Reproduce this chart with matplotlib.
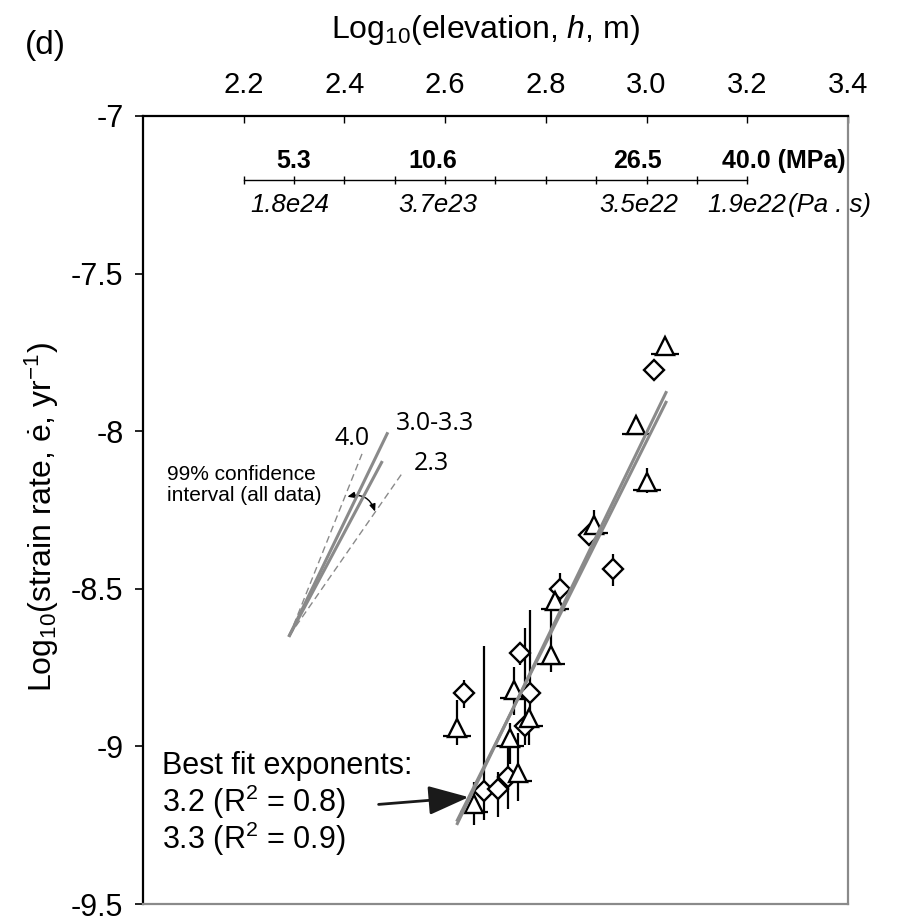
import numpy as np
import matplotlib
matplotlib.use("Agg")
import matplotlib.pyplot as plt
from matplotlib import font_manager
from matplotlib.transforms import ScaledTranslation

plt.rcParams["font.family"] = ["Liberation Sans", "DejaVu Sans"]
plt.rcParams["axes.unicode_minus"] = False
plt.rcParams["mathtext.fontset"] = "custom"
plt.rcParams["mathtext.rm"] = "Liberation Sans"
plt.rcParams["mathtext.it"] = "Liberation Sans:italic"
plt.rcParams["mathtext.bf"] = "Liberation Sans:bold"

installed = {f.name for f in font_manager.fontManager.ttflist}
NARROW = "Liberation Sans Narrow" if "Liberation Sans Narrow" in installed else "Liberation Sans"

# triangles: log10 h, log10 strain rate, error below / above
tri_x = [3.037, 2.979, 3.001, 2.895, 2.818, 2.811, 2.737, 2.767, 2.729, 2.623, 2.745, 2.657]
tri_y = [-7.730, -7.981, -8.160, -8.297, -8.538, -8.711, -8.821, -8.910, -8.973, -8.941, -9.083, -9.182]
tri_lo = [0.0, 0.0, 0.037, 0.068, 0.030, 0.053, 0.079, 0.084, 0.084, 0.055, 0.089, 0.068]
tri_hi = [0.0, 0.0, 0.042, 0.048, 0.030, 0.142, 0.073, 0.030, 0.048, 0.089, 0.127, 0.069]

# diamonds
dia_x = [3.014, 2.886, 2.933, 2.828, 2.749, 2.637, 2.769, 2.758, 2.677, 2.705, 2.725]
dia_y = [-7.807, -8.328, -8.438, -8.501, -8.705, -8.831, -8.831, -8.936, -9.141, -9.135, -9.098]
dia_lo = [0.0, 0.030, 0.053, 0.037, 0.037, 0.046, 0.060, 0.058, 0.094, 0.088, 0.100]
dia_hi = [0.0, 0.030, 0.048, 0.051, 0.032, 0.042, 0.265, 0.311, 0.461, 0.053, 0.095]

# best fit lines (value at log h = 2.8 and slope)
fit_slopes = [3.2, 3.3]
fit_y28 = [-8.672, -8.665]
fit_xrange = [2.623, 3.04]

# exponent fan with 99% confidence interval
fan_labels = ["4.0", "3.0-3.3", "2.3"]
fan_slopes = [4.0, 3.3, 3.0, 2.3]
fan_xend = [2.435, 2.485, 2.474, 2.516]
fan_dashed = [True, False, False, True]
fan_origin = (2.291, -8.648)

# inner stress / viscosity scale
scale_ticks = [2.2, 2.3, 2.4, 2.5, 2.6, 2.7, 2.8, 2.9, 3.0, 3.1, 3.2]
stress_x = [2.300, 2.576, 2.982]
stress_labels = ["5.3", "10.6", "26.5"]
stress_last = "40.0 (MPa)"
visc_x = [2.291, 2.586, 2.984, 3.200]
visc_labels = ["1.8e24", "3.7e23", "3.5e22", "1.9e22"]

x_ticks = [2.2, 2.4, 2.6, 2.8, 3.0, 3.2, 3.4]
y_ticks = [-7, -7.5, -8, -8.5, -9, -9.5]

GREY = "#8a8a8a"

fig = plt.figure(figsize=(8.99, 9.22), dpi=100)
ax = fig.add_axes([0.159, 0.0195, 0.7842, 0.8547])
ax.set_xlim(2.0, 3.4)
ax.set_ylim(-9.5, -7.0)

# error bars
ax.errorbar(tri_x, tri_y, yerr=[tri_lo, tri_hi], fmt="none", ecolor="black",
            elinewidth=1.6, zorder=2)
ax.errorbar(dia_x, dia_y, yerr=[dia_lo, dia_hi], fmt="none", ecolor="black",
            elinewidth=1.6, zorder=2)
base_shift = ax.transData + ScaledTranslation(0, -6.0 / 72, fig.dpi_scale_trans)
tx = np.array(tri_x)
ax.hlines(tri_y, tx - 0.028, tx + 0.028, colors="black", lw=1.6,
          transform=base_shift, zorder=2)

ax.plot(dia_x, dia_y, "D", ms=10, mfc="white", mec="black", mew=1.7, ls="none", zorder=3)
ax.plot(tri_x, tri_y, "^", ms=13, mfc="white", mec="black", mew=1.7, ls="none", zorder=3)

# best fit lines
fx = np.array(fit_xrange)
for n, y28 in zip(fit_slopes, fit_y28):
    ax.plot(fx, y28 + n * (fx - 2.8), color=GREY, lw=2.2, zorder=4, solid_capstyle="butt")

# exponent fan
x0, y0 = fan_origin
for n, xe, dashed in zip(fan_slopes, fan_xend, fan_dashed):
    xs = np.array([x0, xe])
    if dashed:
        ax.plot(xs, y0 + n * (xs - x0), color=GREY, lw=1.0, ls=(0, (5, 3)), zorder=4)
    else:
        ax.plot(xs, y0 + n * (xs - x0), color=GREY, lw=2.2, zorder=4)

ax.text(2.415, -8.024, fan_labels[0], family="Open Sans", fontsize=18, ha="center", va="center")
ax.text(2.503, -7.977, fan_labels[1], family="Open Sans", fontsize=18, ha="left", va="center")
ax.text(2.537, -8.103, fan_labels[2], family="Open Sans", fontsize=18, ha="left", va="center")
ax.text(2.047, -8.170, "99% confidence\ninterval (all data)", fontsize=15,
        ha="left", va="center", linespacing=1.15)
ax.annotate("", xy=(2.461, -8.255), xytext=(2.406, -8.208),
            arrowprops=dict(arrowstyle="<|-|>,head_length=0.35,head_width=0.15",
                            connectionstyle="arc3,rad=-0.45", color="black", lw=1.0,
                            shrinkA=0, shrinkB=0, mutation_scale=12))

# inner scale
scale_y = -7.204
ax.plot([scale_ticks[0], scale_ticks[-1]], [scale_y, scale_y], color="black", lw=1.0)
ax.vlines(scale_ticks, scale_y - 0.013, scale_y + 0.013, colors="black", lw=1.0)
for x, s in zip(stress_x, stress_labels):
    ax.text(x, -7.142, s, family=NARROW, fontweight="bold", fontsize=18, ha="center", va="center")
ax.text(3.395, -7.142, stress_last, family=NARROW, fontweight="bold", fontsize=18,
        ha="right", va="center")
for x, s in zip(visc_x, visc_labels):
    ax.text(x, -7.283, s, family=NARROW, style="italic", fontsize=18.5, ha="center", va="center")
ax.text(3.281, -7.283, "(Pa . s)", family=NARROW, style="italic", fontsize=18.5,
        ha="left", va="center")

# best fit annotation
ax.text(2.038, -9.062, "Best fit exponents:", fontsize=22, ha="left", va="center")
ax.text(2.038, -9.176, r"3.2 (R$^2$ = 0.8)", fontsize=22, ha="left", va="center")
ax.text(2.038, -9.292, r"3.3 (R$^2$ = 0.9)", fontsize=22, ha="left", va="center")
ax.annotate("", xy=(2.647, -9.161), xytext=(2.468, -9.184),
            arrowprops=dict(arrowstyle="-|>,head_length=1.0,head_width=0.36",
                            color="#1a1a1a", lw=2.0, shrinkA=0, shrinkB=0,
                            mutation_scale=25))

# axes styling
ax.xaxis.tick_top()
ax.set_xticks(x_ticks)
ax.set_xticklabels([f"{v:.1f}" for v in x_ticks], family=NARROW, fontsize=21)
ax.tick_params(axis="x", direction="in", length=5, width=1, pad=12)
ax.set_yticks(y_ticks)
ax.set_yticklabels([f"{v:g}" for v in y_ticks], fontsize=22)
ax.tick_params(axis="y", direction="out", length=6, width=1.2, pad=8)

ax.spines["top"].set_linewidth(1.6)
ax.spines["left"].set_linewidth(1.6)
for side in ("right", "bottom"):
    ax.spines[side].set_color(GREY)
    ax.spines[side].set_linewidth(1.6)

fig.text(0.54, 0.967, r"Log$_{10}$(elevation, $h$, m)", fontsize=23, ha="center", va="center")
fig.text(0.047, 0.439, r"Log$_{10}$(strain rate, $\dot{\mathrm{e}}$, yr$^{-1}$)",
         fontsize=23, rotation=90, ha="center", va="center")
fig.text(0.05, 0.951, "(d)", fontsize=24, ha="center", va="center")

fig.savefig("out.png", dpi=100)
